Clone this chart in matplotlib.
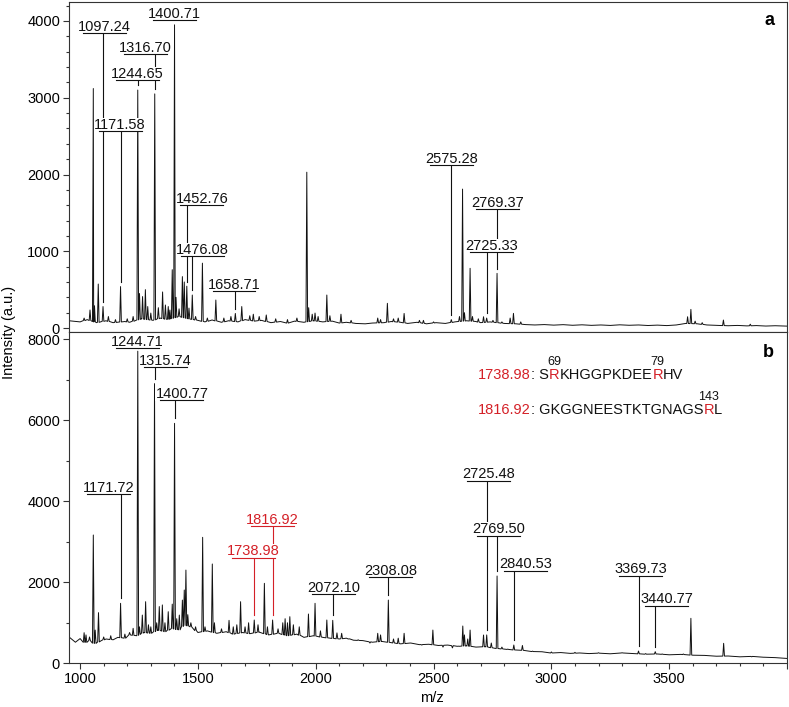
import numpy as np
import matplotlib.pyplot as plt
from matplotlib.ticker import MultipleLocator

plt.rcParams['font.family'] = ['Liberation Sans', 'DejaVu Sans']

RED = '#d42027'
INK = '#111111'

# ---------------------------
# panel a data (m/z, intensity)
# ---------------------------
top_base_mz = [953, 1000, 1030, 1070, 1110, 1140, 1190, 1210, 1260, 1310, 1340, 1370, 1420,
               1460, 1500, 1530, 1560, 1600, 1630, 1670, 1700, 1740, 1770, 1810, 1850, 1880,
               1910, 1950, 1990, 2030, 2070, 2100, 2130, 2170, 2210, 2240, 2290, 2320, 2360,
               2390, 2430, 2470, 2510, 2550, 2590, 2640, 2680, 2700, 2740, 2800, 2850, 2890,
               2930, 2970, 3010, 3050, 3090, 3130, 3170, 3210, 3250, 3290, 3330, 3370, 3410,
               3450, 3490, 3530, 3570, 3620, 3660, 3700, 3750, 3790, 3830, 3870, 3910, 3950,
               4000]
top_base_int = [95, 80, 110, 70, 95, 70, 85, 75, 120, 100, 130, 110, 150,
                120, 100, 80, 105, 75, 95, 80, 110, 90, 100, 70, 85, 65,
                90, 75, 95, 80, 90, 65, 75, 60, 55, 65, 70, 85, 75,
                60, 75, 55, 70, 60, 80, 95, 85, 70, 80, 60, 55, 45,
                40, 45, 38, 44, 36, 42, 35, 40, 34, 42, 36, 40, 33,
                38, 32, 40, 60, 55, 40, 35, 30, 34, 28, 32, 26, 30,
                25]
top_peak_mz = [1017, 1042, 1056, 1061, 1077, 1097.24, 1120, 1150, 1171.58, 1200,
               1225, 1244.65, 1252, 1265, 1277, 1287, 1300, 1316.70, 1332, 1350,
               1362, 1374, 1381, 1391, 1400.71, 1407, 1420, 1434, 1442, 1452.76,
               1462, 1476.08, 1490, 1519, 1540, 1576, 1610, 1640, 1658.71, 1686,
               1720, 1735, 1760, 1790, 1830, 1880, 1920, 1962, 1970, 1985,
               1997, 2010, 2047, 2060, 2107, 2150, 2263, 2275, 2304, 2330,
               2350, 2375, 2440, 2457, 2500, 2575.28, 2610, 2623, 2631, 2655,
               2665, 2690, 2712, 2725.33, 2752, 2769.37, 2790, 2825, 2839, 2870,
               3578, 3592, 3610, 3640, 3730, 3844]
top_peak_int = [130, 235, 3120, 290, 573, 280, 150, 110, 540, 120,
                150, 3100, 450, 410, 500, 280, 195, 3050, 265, 470,
                300, 280, 235, 760, 3950, 400, 250, 670, 600, 545,
                260, 430, 150, 845, 130, 365, 130, 150, 190, 280,
                160, 180, 150, 170, 120, 110, 130, 2030, 265, 180,
                195, 150, 430, 160, 180, 100, 130, 110, 322, 120,
                130, 190, 100, 100, 80, 110, 150, 1810, 200, 778,
                150, 120, 147, 130, 100, 712, 80, 130, 191, 80,
                147, 243, 90, 70, 104, 50]
top_labels = ['1097.24', '1171.58', '1244.65', '1316.70', '1400.71', '1452.76',
              '1476.08', '1658.71', '2575.28', '2725.33', '2769.37']
# label anchor (centre of underline) in data coords
top_label_x = [1102, 1170, 1243, 1276, 1399, 1517, 1519, 1653, 2576, 2747, 2771]
top_label_y = [3840, 2567, 3231, 3570, 4013, 1603, 938, 482, 2124, 994, 1551]

# ---------------------------
# panel b data
# ---------------------------
bot_base_mz = [953, 980, 1000, 1020, 1040, 1060, 1090, 1110, 1140, 1160, 1190, 1210, 1240,
               1270, 1300, 1330, 1360, 1390, 1420, 1440, 1470, 1500, 1540, 1580, 1620, 1650,
               1690, 1720, 1760, 1800, 1840, 1880, 1920, 1950, 1990, 2030, 2060, 2100, 2130,
               2160, 2200, 2240, 2280, 2320, 2360, 2400, 2440, 2480, 2520, 2560, 2600, 2640,
               2680, 2720, 2760, 2800, 2840, 2880, 2920, 2960, 3000, 3040, 3080, 3120, 3160,
               3200, 3250, 3300, 3350, 3400, 3450, 3500, 3550, 3600, 3650, 3700, 3750, 3800,
               3850, 3900, 3950, 4000]
bot_base_int = [650, 520, 610, 500, 560, 480, 560, 600, 580, 640, 620, 700, 680,
                760, 740, 820, 780, 860, 820, 950, 900, 760, 800, 740, 780, 720,
                760, 730, 770, 700, 740, 680, 720, 640, 680, 640, 620, 600, 620,
                570, 560, 520, 540, 510, 480, 500, 460, 470, 440, 450, 420, 430,
                400, 410, 370, 350, 330, 320, 290, 285, 255, 265, 245, 255, 240,
                250, 235, 255, 240, 225, 230, 210, 220, 200, 195, 175, 180, 160,
                170, 150, 140, 120]
bot_peak_mz = [1017, 1025, 1040, 1056, 1064, 1078, 1100, 1130, 1171.72, 1190,
               1210, 1225, 1244.71, 1252, 1264, 1278, 1290, 1300, 1315.74, 1325,
               1336, 1349, 1360, 1374, 1391, 1400.77, 1410, 1421, 1434, 1442,
               1449, 1457, 1470, 1490, 1520, 1530, 1561, 1570, 1600, 1632,
               1650, 1665, 1681, 1700, 1715, 1738.98, 1755, 1782, 1795, 1816.92,
               1840, 1860, 1870, 1880, 1890, 1905, 1930, 1969, 1997, 2020,
               2047, 2072.10, 2090, 2110, 2140, 2180, 2230, 2263, 2275, 2308.08,
               2330, 2350, 2375, 2400, 2450, 2497, 2540, 2580, 2610, 2624,
               2631, 2645, 2655, 2712, 2725.48, 2745, 2769.50, 2790, 2815, 2840.53,
               2877, 2920, 3000, 3100, 3200, 3300, 3369.73, 3400, 3440.77, 3470,
               3560, 3592, 3620, 3731, 3850, 3900]
bot_peak_int = [755, 700, 650, 3165, 820, 1250, 650, 680, 1480, 720,
                760, 863, 7700, 900, 1190, 1520, 950, 900, 6900, 1000,
                1400, 1440, 1000, 1273, 1460, 5920, 1100, 1190, 1560, 1808,
                2300, 1200, 1000, 900, 3108, 900, 2450, 1000, 850, 1060,
                900, 950, 1520, 900, 1000, 1068, 950, 1973, 900, 1068,
                850, 1000, 1100, 1000, 1150, 950, 900, 1216, 1480, 800,
                1068, 1060, 750, 740, 600, 580, 500, 740, 700, 1560,
                600, 620, 740, 500, 450, 820, 400, 380, 420, 920,
                700, 600, 820, 698, 700, 500, 2154, 400, 350, 451,
                440, 300, 280, 270, 260, 260, 303, 240, 287, 230,
                230, 1110, 200, 493, 160, 150]
bot_labels = ['1171.72', '1244.71', '1315.74', '1400.77', '1738.98', '1816.92', '2072.10',
              '2308.08', '2725.48', '2769.50', '2840.53', '3369.73', '3440.77']
bot_label_x = [1122, 1243, 1362, 1432, 1736, 1816, 2076, 2317, 2732, 2777, 2890, 3378, 3489]
bot_label_y = [4169, 7771, 7302, 6496, 2606, 3387, 1710, 2121, 4505, 3149, 2285, 2162, 1421]
bot_red = ['1738.98', '1816.92']


def build_trace(base_mz, base_int, peak_mz, peak_int, half=3.5):
    xs, ys = [], []
    for m, b in zip(base_mz, base_int):
        if min(abs(m - p) for p in peak_mz) > half + 1:
            xs.append(m)
            ys.append(b)
    for m, h in zip(peak_mz, peak_int):
        b = np.interp(m, base_mz, base_int)
        xs += [m - half, m, m + half]
        ys += [b, h, b]
    order = np.argsort(xs, kind='stable')
    return np.array(xs)[order], np.array(ys)[order]


def label_peaks(ax, texts, lx, ly, peak_mz, peak_int, gap, red=()):
    for t, x, y in zip(texts, lx, ly):
        c = RED if t in red else INK
        m = float(t)
        h = peak_int[peak_mz.index(m)]
        ax.plot([m, m], [y, h + gap], color=c, lw=0.8, zorder=3)
        ax.plot([x - 91, x + 91], [y, y], color=c, lw=0.8, zorder=5)
        ax.annotate(t, (x, y), xytext=(0, 1.6), textcoords='offset points',
                    ha='center', va='baseline', fontsize=10.5, color=c, zorder=4,
                    bbox=dict(facecolor='white', edgecolor='none', pad=0))


def style_axis(ax):
    for s in ax.spines.values():
        s.set_color('#333333')
        s.set_linewidth(0.8)
    ax.tick_params(which='both', direction='out', color='#333333', width=0.8,
                   labelsize=10.5, pad=2)
    ax.tick_params(which='major', length=4.5)
    ax.tick_params(which='minor', length=2.5)


fig = plt.figure(figsize=(7.89, 7.07), dpi=100)
ax1 = fig.add_axes([0.0875, 0.5308, 0.9100, 0.4668])
ax2 = fig.add_axes([0.0875, 0.0618, 0.9100, 0.4690])

# ---------------------------
# PANEL A
# ---------------------------
x, y = build_trace(top_base_mz, top_base_int, top_peak_mz, top_peak_int)
ax1.plot(x, y, color=INK, lw=0.7, zorder=2)
label_peaks(ax1, top_labels, top_label_x, top_label_y, top_peak_mz, top_peak_int, 60)
ax1.set_xlim(953, 4000)
ax1.set_ylim(-48, 4251)
ax1.set_yticks([0, 1000, 2000, 3000, 4000])
ax1.yaxis.set_minor_locator(MultipleLocator(200))
style_axis(ax1)
ax1.tick_params(axis='x', which='both', bottom=False, labelbottom=False)
ax1.text(0.976, 0.942, 'a', transform=ax1.transAxes, fontsize=13, fontweight='bold',
         ha='center', va='center')

# ---------------------------
# PANEL B
# ---------------------------
x, y = build_trace(bot_base_mz, bot_base_int, bot_peak_mz, bot_peak_int)
ax2.plot(x, y, color=INK, lw=0.7, zorder=2)
label_peaks(ax2, bot_labels, bot_label_x, bot_label_y, bot_peak_mz, bot_peak_int, 120,
            red=bot_red)
ax2.set_xlim(953, 4000)
ax2.set_ylim(0, 8180)
ax2.set_xticks([1000, 1500, 2000, 2500, 3000, 3500, 4000])
ax2.set_xticklabels(['1000', '1500', '2000', '2500', '3000', '3500', ''])
ax2.xaxis.set_minor_locator(MultipleLocator(100))
ax2.set_yticks([0, 2000, 4000, 6000, 8000])
ax2.yaxis.set_minor_locator(MultipleLocator(1000))
style_axis(ax2)
ax2.text(0.974, 0.937, 'b', transform=ax2.transAxes, fontsize=13, fontweight='bold',
         ha='center', va='center')


def sequence_text(ax, x0, y0, parts, sups):
    t = ax.text(x0, y0, parts[0][0], color=parts[0][1], transform=ax.transAxes,
                fontsize=10.5, va='baseline')
    for i, (s, c) in enumerate(parts[1:], start=1):
        t = ax.annotate(s, xy=(1, 0), xycoords=t, va='bottom', fontsize=10.5, color=c)
        if i in sups:
            ax.annotate(sups[i], xy=(0.5, 1), xycoords=t, ha='center', va='bottom',
                        fontsize=9, color=INK)


sequence_text(ax2, 0.570, 0.8565,
              [('1738.98', RED), (': S', INK), ('R', RED), ('KHGGPKDEE', INK),
               ('R', RED), ('HV', INK)], {2: '69', 4: '79'})
sequence_text(ax2, 0.570, 0.752,
              [('1816.92', RED), (': GKGGNEESTKTGNAGS', INK), ('R', RED), ('L', INK)],
              {2: '143'})

fig.text(0.012, 1 - 332 / 707, 'Intensity (a.u.)', rotation=90, ha='center', va='center',
         fontsize=10.5)
fig.text(0.548, 1 - 698 / 707, 'm/z', ha='center', va='center', fontsize=10.5)

fig.savefig('out.png', dpi=100)
